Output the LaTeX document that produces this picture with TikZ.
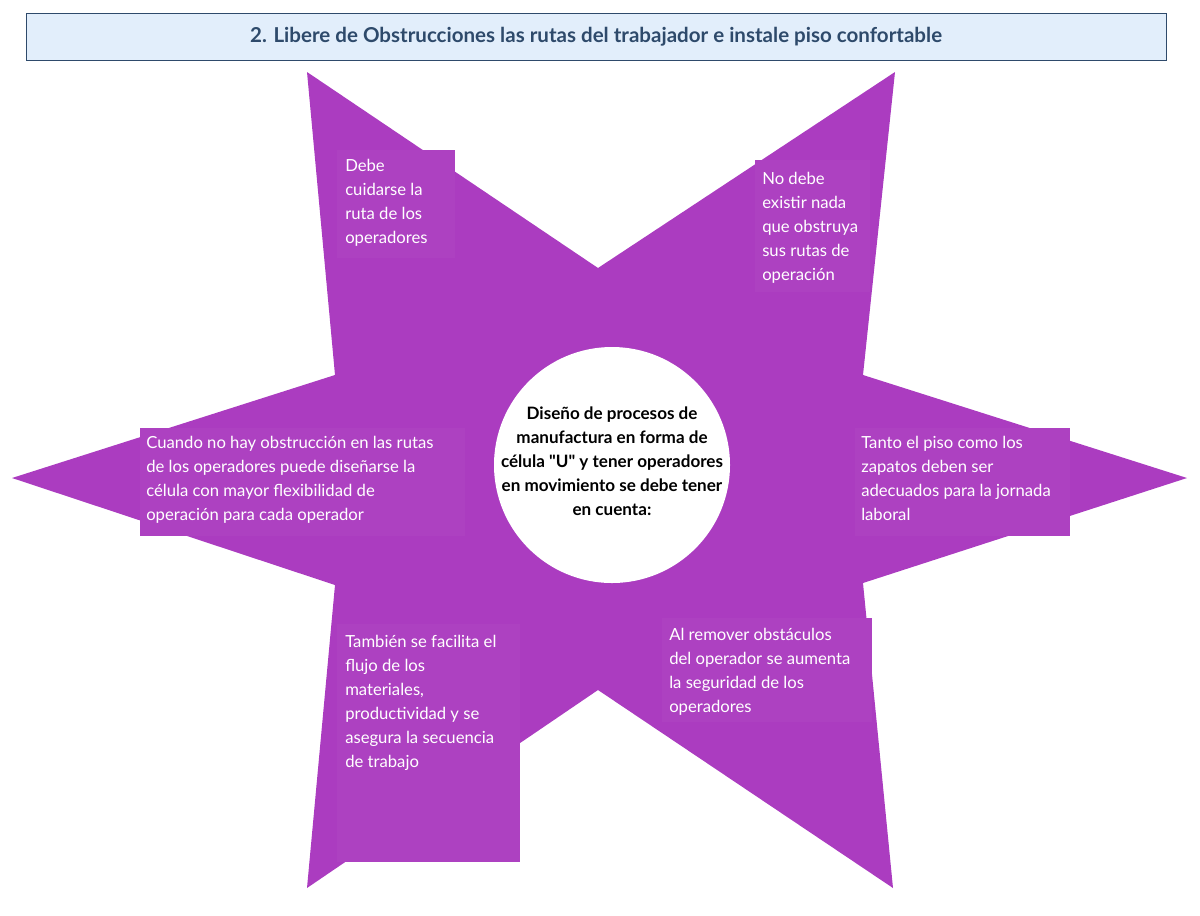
\documentclass[tikz,border=0pt]{standalone}
\usepackage{fontspec}
\setmainfont{Lato}
\newfontfamily\plainlato{Lato}
\definecolor{starc}{HTML}{AB3CC0}
\definecolor{boxc}{HTML}{AD41C1}
\definecolor{titlef}{HTML}{E2EEFB}
\definecolor{titled}{HTML}{2E4A6B}
\begin{document}
\begin{tikzpicture}[x=0.75pt,y=-0.75pt,
  tbox/.style={text=white,align=left,anchor=north west,inner sep=0pt,font=\fontsize{12.5}{18}\selectfont}]
\useasboundingbox (0,0) rectangle (1200,915);
\node[draw=titled,fill=titlef,minimum width=855pt,minimum height=35pt,text=titled,font=\bfseries\fontsize{15.4}{18}\selectfont] (title) at (596,37) {2. Libere de Obstrucciones las rutas del trabajador e instale piso confortable};
\fill[starc] (307,72) -- (598,268) -- (895,72) -- (863,375) -- (1187,478) -- (863,583) -- (893,888) -- (598,690) -- (307,888) -- (335,585) -- (12,478) -- (335,375) -- cycle;
\fill[boxc] (337,150) rectangle (455,258);
\fill[boxc] (755,160) rectangle (870,292);
\fill[boxc] (140,428) rectangle (465,536);
\fill[boxc] (855,428) rectangle (1070,536);
\fill[boxc] (662,618) rectangle (872,722);
\fill[boxc] (337,624) rectangle (520,862);
\node[tbox] (t1) at (345,159) {Debe\\cuidarse la\\ruta de los\\operadores};
\node[tbox] (t2) at (762,172) {No debe\\existir nada\\que obstruya\\sus rutas de\\operación};
\node[tbox] (t3) at (146,436) {Cuando no hay obstrucción en las rutas\\de los operadores puede diseñarse la\\célula con mayor flexibilidad de\\operación para cada operador};
\node[tbox] (t4) at (861,436) {Tanto el piso como los\\zapatos deben ser\\adecuados para la jornada\\laboral};
\node[tbox] (t5) at (669,628) {Al remover obstáculos\\del operador se aumenta\\la seguridad de los\\operadores};
\node[tbox] (t6) at (345,635) {También se facilita el\\flujo de los\\materiales,\\productividad y se\\asegura la secuencia\\de trabajo};
\node[circle,fill=white,minimum size=177pt,inner sep=0pt] (c) at (612,465) {};
\node[align=center,font=\bfseries\fontsize{12.8}{18}\selectfont,text=black] (ct) at (612,461) {Diseño de procesos de\\manufactura en forma de\\célula {\plainlato\bfseries"}U{\plainlato\bfseries"} y tener operadores\\en movimiento se debe tener\\en cuenta:};
\end{tikzpicture}
\end{document}
